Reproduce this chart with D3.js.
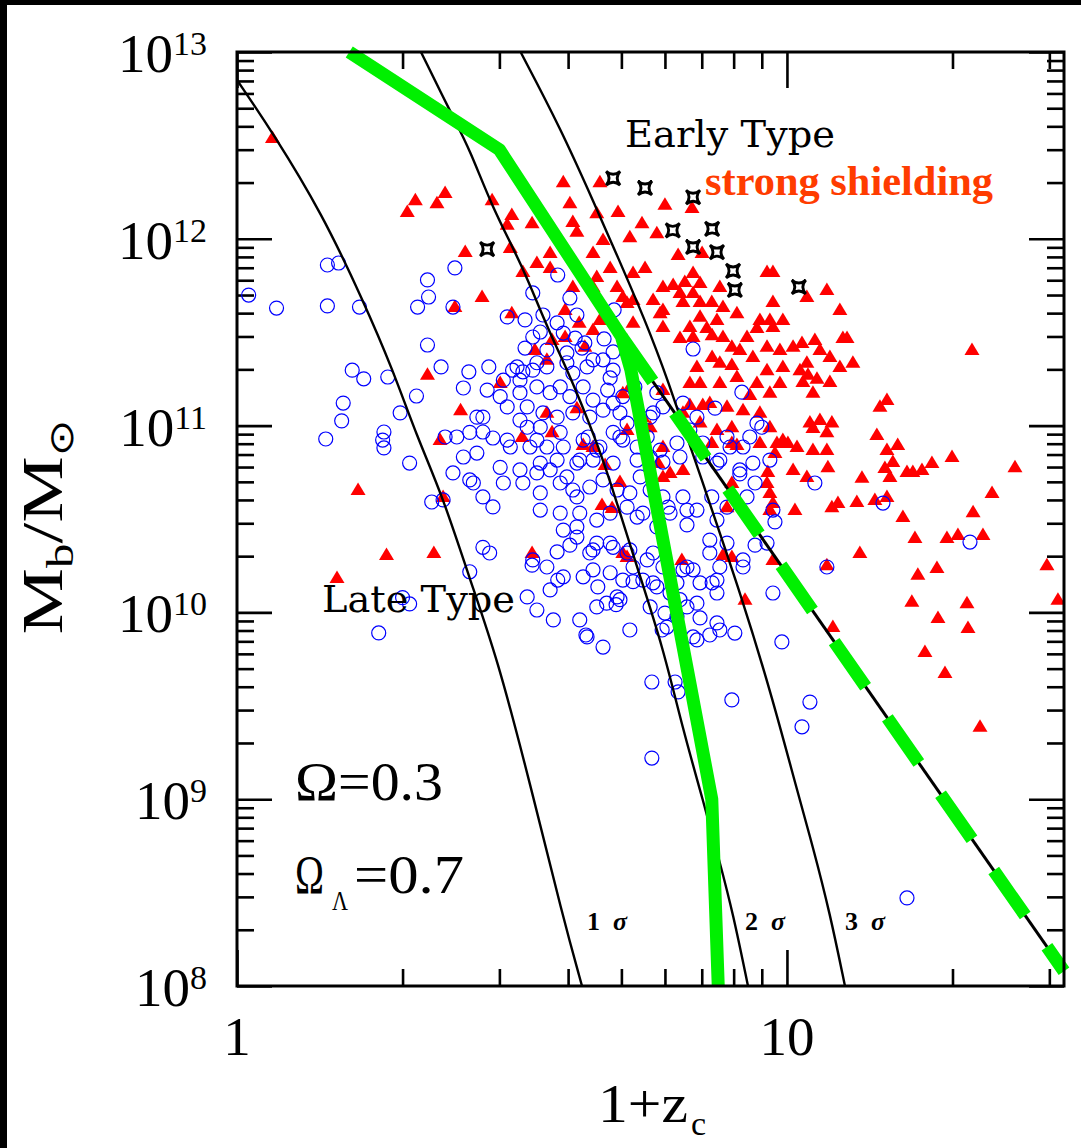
<!DOCTYPE html>
<html><head><meta charset="utf-8">
<script src="https://cdn.jsdelivr.net/npm/d3@7"></script>
<style>body{margin:0;background:#fff}svg{display:block}</style>
</head><body>
<svg id="chart" width="1081" height="1148"></svg>
<script>
// ---- data (1+z_c, M_b / M_sun) ----
const yExponents = ["8","9","10","11","12","13"];
const xTickLabels = [1, 10];
const sigmaLabels = ["1", "2", "3"];

const sigma1 = [[1.0,7.08e12],[1.163,3.68e12],[1.427,1.37e12],[1.694,4.70e11],[1.921,1.99e11],[2.125,8.69e10],[2.369,4.15e10],[2.653,1.49e10],[2.97,5.77e9],[3.41,1.22e9],[3.914,2.34e8],[4.24,1e8]];
const sigma2 = [[2.16,1.0e13],[2.47,4.49e12],[2.653,2.99e12],[2.909,1.48e12],[3.297,7.24e11],[3.601,3.81e11],[3.867,2.39e11],[4.083,1.69e11],[4.571,7.40e10],[4.889,4.0e10],[5.337,1.75e10],[5.951,6.53e9],[6.471,2.35e9],[7.035,9.91e8],[7.553,4.56e8],[7.976,2.46e8],[8.495,1e8]];
const sigma3 = [[3.284,9.9e12],[3.867,3.96e12],[4.476,1.52e12],[4.970,7.52e11],[5.519,3.67e11],[6.050,1.82e11],[6.947,5.45e10],[8.318,1.16e10],[9.430,3.40e9],[10.43,1.12e9],[11.15,5.55e8],[11.97,2.46e8],[12.75,1e8]];
const greenSolid = [[1.6,1e13],[3,3e12],[5,3e11],[5.2,2e11],[7.3,1e9],[7.5,1e8]];
const greenDashed = [[5,3e11],[31.9,1.2e8]];

const strongShielding = [[2.85,8.81e11],[4.83,2.11e12],[5.52,1.87e12],[6.75,1.67e12],[6.20,1.11e12],[7.31,1.13e12],[6.75,9.04e11],[7.46,8.49e11],[7.98,6.73e11],[8.04,5.32e11],[10.51,5.52e11]];

const earlyType = [[1.16,3.46e12],
[3.92,2.01e12],[4.57,2.01e12],[2.11,1.61e12],[2.39,1.76e12],[2.31,1.55e12],[2.04,1.39e12],[2.91,1.61e12],[4.03,1.55e12],[4.93,1.39e12],[6.00,1.52e12],[6.72,1.46e12],[3.16,1.34e12],[3.10,1.19e12],[3.44,1.21e12],[4.08,1.23e12],[4.15,1.09e12],[4.51,1.37e12],[5.45,1.21e12],[5.80,1.07e12],[5.18,1.02e12],[4.63,9.85e11],[3.14,8.94e11],[2.60,8.5e11],[3.71,8.4e11],[4.44,8.4e11],[6.34,8.19e11],[7.01,8.4e11],
[3.51,7.42e11],[3.31,6.64e11],[3.71,6.98e11],[4.51,6.25e11],[2.79,4.88e11],[4.08,5.52e11],[4.44,5.52e11],[2.49,4.31e11],[3.16,4.0e11],[4.57,3.68e11],[3.74,2.87e11],[3.95,2.98e11],[3.48,2.54e11],[3.01,1.69e11],[2.55,1.21e11],[2.22,1.87e11],[2.34,8.37e10],[3.30,8.69e10],[3.74,9.2e10],[3.66,2.25e11],[4.29,2.64e11],[4.19,3.55e11],[4.44,3.25e11],[3.95,4.16e11],[4.15,1.24e11],[3.66,1.17e11],[4.26,7.87e10],[4.44,7.68e10],[4.61,3.76e10],[4.81,3.62e10],[3.44,2.08e10],[1.66,4.52e10],[2.37,4.15e10],[1.87,2.03e10],[2.28,2.08e10],[1.52,1.53e10],[5.12,1.98e10],[5.03,2.08e10],[4.97,4.99e10],[5.12,9.47e10],[5.03,1.49e11],[5.18,1.61e11],[5.47,1.11e11],[5.64,9.8e10],
[4.77,6.98e11],[5.52,6.98e11],[5.25,6.56e11],[5.95,5.52e11],[6.52,5.87e11],[6.75,6.56e11],[6.95,5.80e11],[7.55,5.52e11],[6.21,5.66e11],[4.91,5.52e11],[5.03,4.88e11],[5.25,4.70e11],[5.12,4.53e11],[5.71,4.70e11],[5.95,4.16e11],[6.39,5.13e11],[6.75,5.13e11],[6.47,4.59e11],[6.95,4.59e11],[7.30,4.59e11],[7.65,4.31e11],[9.43,4.59e11],[8.11,4.0e11],[8.93,3.68e11],[9.31,3.68e11],[9.83,3.68e11],[9.43,3.37e11],[8.82,3.33e11],[5.25,3.55e11],[5.88,4.0e11],[5.95,3.37e11],[6.95,3.82e11],[7.46,3.68e11],[6.66,3.37e11],[7.15,3.33e11],[6.75,2.98e11],[7.31,3.05e11],[7.65,2.98e11],[6.39,2.94e11],[7.94,2.64e11],[8.46,2.98e11],[8.21,2.54e11],[9.20,2.64e11],[9.71,2.54e11],[10.26,2.64e11],[7.31,2.33e11],[6.86,2.06e11],[7.55,2.17e11],[7.94,2.11e11],[8.67,2.33e11],[9.20,1.98e11],[9.83,2.06e11],[6.66,1.69e11],[6.95,1.69e11],[7.55,1.69e11],[8.11,1.82e11],[8.82,1.69e11],[9.71,1.69e11],[9.31,1.50e11],[8.56,1.46e11],[8.32,1.21e11],[8.93,1.17e11],[9.31,9.8e10],[9.83,8.37e10],[10.43,7.68e10],[7.24,1.32e11],[7.78,1.26e11],[6.95,1.04e11],[7.46,9.47e10],[7.94,9.8e10],[7.30,8.07e10],[7.94,8.07e10],[9.20,6.64e11],[9.43,6.64e11],[6.47,1.17e11],[6.66,1.29e11],[7.03,1.29e11],[8.11,7.87e10],[9.51,7.13e10],[5.95,1.55e11],[5.95,5.31e10],[6.47,5.79e10],[6.13,5.58e10],[5.83,6.30e10],[5.95,7.68e10],[9.31,3.53e10],[7.78,3.66e10],
[11.82,5.32e11],[10.87,4.88e11],[12.48,4.16e11],[10.65,2.77e11],[11.24,2.87e11],[11.48,2.54e11],[11.97,2.33e11],[12.64,2.94e11],[12.86,2.94e11],[13.18,2.17e11],[12.48,2.06e11],[10.56,1.98e11],[10.92,1.87e11],[11.34,1.78e11],[11.97,1.71e11],[10.87,2.17e11],[10.69,1.71e11],[11.15,1.50e11],[15.2,1.37e11],[14.76,1.26e11],[21.7,2.54e11],[11.01,1.04e11],[11.48,1.07e11],[12.07,1.04e11],[11.15,9.7e10],[11.82,9.2e10],[14.57,8.91e10],[15.9,7.87e10],
[8.93,8.07e10],[9.59,8.07e10],[10.04,8.07e10],[11.15,7.40e10],[11.82,7.40e10],[15.2,7.40e10],[15.58,6.38e10],[15.07,5.93e10],[15.39,5.31e10],[16.53,5.65e10],[16.94,5.65e10],[17.6,5.79e10],[18.35,6.3e10],[19.96,6.79e10],[25.98,5.98e10],[10.26,5.79e10],[10.87,5.31e10],[11.87,5.98e10],[13.69,5.25e10],[9.23,5.65e10],[9.20,4.93e10],[9.31,4.36e10],[9.43,3.85e10],[10.34,3.53e10],[12.07,3.66e10],[12.38,3.85e10],[13.40,3.90e10],[14.45,4.0e10],[15.2,4.15e10],[16.25,3.24e10],[21.8,3.44e10],[23.6,4.36e10],[17.09,2.50e10],[19.54,2.50e10],[20.46,2.60e10],[22.72,2.60e10],[29.7,1.79e10],[13.57,2.08e10],[17.3,1.59e10],[18.74,1.73e10],[9.43,1.91e10],[11.82,1.79e10],[7.94,4.93e10],[7.65,2.03e10],[7.94,1.98e10],[6.44,1.91e10],[8.39,1.17e10],[16.87,1.14e10],[21.25,1.12e10],[18.82,9.34e9],[31.1,1.17e10],[21.34,8.25e9],[12.12,8.35e9],[17.82,6.14e9],[19.38,4.74e9],[22.44,2.44e9],[4.67,6.15e10]];

const lateType = [[1.05,5.0e11],[1.18,4.26e11],[1.46,7.24e11],[1.53,7.42e11],[1.46,4.37e11],[1.67,4.31e11],[2.22,6.02e11],[2.23,4.88e11],[2.13,4.31e11],[2.22,2.70e11],[1.62,1.98e11],[1.70,1.78e11],[1.88,1.82e11],[2.35,2.06e11],[2.12,1.44e11],[1.56,1.32e11],[1.55,1.06e11],[1.45,8.48e10],[1.85,9.24e10],[1.84,8.37e10],[1.85,7.59e10],[1.98,1.17e11],[2.06,6.3e10],[2.26,3.90e10],[2.37,4.0e10],[2.00,1.20e10],[2.06,1.11e10],[1.81,7.76e9],[2.39,8.69e10],
[2.49,6.98e11],[2.47,4.31e11],[3.83,6.40e11],[3.45,5.13e11],[4.03,4.82e11],[3.10,3.82e11],[3.34,3.68e11],[3.60,3.91e11],[3.82,3.55e11],[4.15,3.91e11],[3.56,3.17e11],[3.92,3.13e11],[3.45,2.98e11],[4.12,2.94e11],[4.29,2.77e11],[3.34,2.60e11],[3.66,2.54e11],[3.98,2.45e11],[4.24,2.60e11],[3.23,2.06e11],[3.45,1.98e11],[3.66,2.06e11],[3.98,2.17e11],[4.08,1.91e11],[4.33,2.06e11],[2.64,1.94e11],[2.87,2.06e11],[4.44,2.25e11],[3.17,1.98e11],[3.31,1.94e11],[3.51,2.17e11],
[2.58,1.59e11],[3.01,1.43e11],[3.27,1.50e11],[3.51,1.61e11],[3.71,1.50e11],[3.87,1.61e11],[4.03,1.43e11],[4.26,1.61e11],[4.44,1.37e11],[2.80,1.11e11],[3.10,1.26e11],[3.37,1.26e11],[3.60,1.17e11],[3.82,1.11e11],[4.08,1.17e11],[4.38,1.11e11],[2.51,8.69e10],[2.65,9.2e10],[2.80,9.24e10],[2.92,8.58e10],[3.14,7.68e10],[3.41,7.68e10],[3.66,7.68e10],[3.92,7.68e10],[4.26,8.37e10],[2.58,6.79e10],[2.73,7.13e10],[3.01,5.98e10],[3.27,5.79e10],[3.56,6.30e10],[3.82,6.54e10],[4.15,6.30e10],[4.44,6.54e10],[2.47,5.58e10],[2.65,5.12e10],[2.80,4.15e10],[2.92,3.67e10],[3.05,4.93e10],[3.31,4.93e10],[3.56,4.36e10],[3.87,4.93e10],[4.15,4.15e10],[4.38,4.69e10],[3.56,3.53e10],[3.87,3.40e10],[4.20,3.40e10],[4.51,3.12e10],[2.80,2.23e10],[2.88,2.08e10],[2.65,1.65e10],[3.82,2.11e10],[4.15,2.53e10],[4.51,2.35e10],[4.44,2.16e10],[3.45,1.91e10],[3.66,1.75e10],[3.92,1.55e10],[4.26,1.55e10],[3.37,1.21e10],[3.71,1.32e10],[3.83,1.49e10],[4.53,1.37e10],[4.51,1.07e10],[3.76,9.11e9],[4.20,9.11e9],[4.33,7.39e9],[3.51,1.03e10],[3.51,5.58e10],[3.27,1.07e11],[3.87,9.2e10],[3.71,5.79e10],[3.98,5.31e10],[3.92,2.76e10],[4.15,2.87e10],[4.03,2.29e10],[4.38,2.08e10],[4.44,1.69e10],[2.69,4.93e10],[4.51,7.40e10],[4.35,8.69e10],[4.08,4.52e10],[4.20,6.54e10],[3.05,1.75e11],[3.27,1.75e11],[2.85,1.55e11],[3.37,9.8e10],[3.56,9.8e10],[2.73,1.11e11],[3.10,8.37e10],[3.51,8.37e10],[4.89,1.10e10],[3.44,1.79e10],
[4.85,4.16e11],[4.65,2.91e11],[4.83,2.48e11],[4.63,2.25e11],[4.83,1.98e11],[4.77,1.80e11],[6.75,2.57e11],
[4.72,1.55e11],[4.83,1.32e11],[5.03,1.43e11],[5.29,1.61e11],[5.80,1.50e11],[4.63,1.21e11],[4.97,1.17e11],[5.12,1.03e11],[5.64,1.11e11],[5.95,1.26e11],[6.47,1.32e11],[7.40,1.24e11],[8.82,1.03e11],[4.57,7.68e10],[4.83,9.2e10],[5.03,8.37e10],[5.34,7.68e10],[5.57,8.69e10],[5.88,7.40e10],[6.31,8.07e10],[6.66,9.47e10],[7.03,8.07e10],[8.32,7.68e10],[8.56,8.69e10],[4.83,6.30e10],[5.34,6.54e10],[5.64,6.79e10],[5.95,6.38e10],[6.39,6.79e10],[7.03,6.79e10],[7.55,6.54e10],[8.21,5.79e10],[8.67,6.30e10],[9.31,6.54e10],[4.63,5.12e10],[4.91,4.52e10],[5.18,4.36e10],[5.64,4.52e10],[5.95,4.15e10],[6.47,4.15e10],[7.30,4.15e10],[8.21,5.51e10],[8.46,4.15e10],[8.75,4.93e10],[8.28,1.51e11],[6.86,1.11e11],[5.71,1.17e11],[7.78,8.69e10],[7.88,7.68e10],[5.41,5.31e10],[4.97,8.69e10],[9.0,9.8e10],[11.24,4.93e10],[7.46,6.30e10],
[9.43,3.53e10],[9.51,3.05e10],[8.75,2.29e10],[9.20,2.35e10],[11.82,1.75e10],[14.95,3.85e10],[21.52,2.38e10],[9.43,1.27e10],[9.79,6.95e9],[11.01,3.31e9],[10.65,2.44e9],[7.94,3.40e9],[5.68,4.24e9],[6.26,4.24e9],[6.34,3.75e9],[5.68,1.66e9],[5.18,8.05e9],[4.63,6.52e9],[6.75,7.39e9],[7.24,7.57e9],[7.55,8.05e9],[8.04,7.75e9],[6.95,9.34e9],[7.46,8.78e9],[6.39,1.17e10],[6.86,1.12e10],[6.00,9.92e9],[5.93,8.05e9],[6.13,1.27e10],[5.71,1.44e10],[5.25,1.46e10],[4.97,1.17e10],[4.70,1.12e10],[6.58,1.75e10],[6.75,1.69e10],[7.31,1.44e10],[7.46,1.49e10],[5.57,1.91e10],[4.77,2.35e10],[5.12,2.08e10],[5.47,3.40e10],[6.13,3.40e10],[6.58,2.94e10],[7.24,2.08e10],[8.32,1.75e10],[6.86,3.53e10],[7.46,3.12e10],[7.78,3.66e10],[4.77,3.40e10],[5.12,3.66e10],[5.34,3.24e10],[5.80,2.87e10],[4.83,2.23e10],[5.18,2.16e10],[5.25,1.75e10],[5.71,2.08e10],[5.95,1.75e10],[6.47,1.69e10],[7.55,1.75e10],[4.77,1.63e10],[5.03,1.49e10],[5.47,1.49e10],[5.80,1.37e10],[6.31,1.44e10],[6.95,1.44e10],[7.46,1.27e10],[4.91,1.21e10],[5.64,1.07e10],[6.31,9.5e9],[6.58,1.07e10],[6.86,7.12e9],[6.05,8.35e9],[7.24,2.44e10],[7.78,2.35e10],[8.32,1.91e10],[6.58,3.53e10],[6.08,3.66e10],[16.53,2.96e8],[4.31,7.57e9]];

// ---- layout ----
const W = 1081, H = 1148;
const L = 237, R = 1064, T = 52, B = 986;
const svg = d3.select("#chart");
svg.append("rect").attr("width", W).attr("height", H).attr("fill", "#000");
svg.append("rect").attr("x", 7).attr("y", 5).attr("width", W - 7).attr("height", H - 5).attr("fill", "#fff");

const x = d3.scaleLog().domain([1, 31.9]).range([L, R]);
const y = d3.scaleLog().domain([1e8, 1e13]).range([B, T]);

svg.append("clipPath").attr("id", "clip").append("rect")
  .attr("x", L).attr("y", T).attr("width", R - L).attr("height", B - T);

const serif = "'Liberation Serif', 'Times New Roman', serif";

// ---- ticks via d3 axes ----
const xAll = x.ticks(), yAll = y.ticks();
const isDecade = v => Math.abs(Math.log10(v) - Math.round(Math.log10(v))) < 1e-9;
const xMajor = xAll.filter(isDecade), xMinor = xAll.filter(v => !isDecade(v));
const yMajor = yAll.filter(isDecade), yMinor = yAll.filter(v => !isDecade(v));

function styleAxis(g) {
  g.select(".domain").remove();
  g.selectAll(".tick line").attr("stroke", "#000").attr("stroke-width", 2.6);
  g.selectAll(".tick text").remove();
}
const axes = [
  [d3.axisBottom(x), `translate(0,${B})`, xMinor, 17], [d3.axisBottom(x), `translate(0,${B})`, xMajor, 36],
  [d3.axisTop(x), `translate(0,${T})`, xMinor, 17], [d3.axisTop(x), `translate(0,${T})`, xMajor, 36],
  [d3.axisLeft(y), `translate(${L},0)`, yMinor, 17], [d3.axisLeft(y), `translate(${L},0)`, yMajor, 35],
  [d3.axisRight(y), `translate(${R},0)`, yMinor, 17], [d3.axisRight(y), `translate(${R},0)`, yMajor, 35]
];
axes.forEach(([ax, tr, vals, len]) => {
  svg.append("g").attr("transform", tr)
    .call(ax.tickValues(vals).tickSize(-len).tickFormat(""))
    .call(styleAxis);
});

// ---- markers ----
const plot = svg.append("g").attr("clip-path", "url(#clip)");
plot.append("g").selectAll("path").data(earlyType).join("path")
  .attr("d", "M0,-7.5L7.5,5L-7.5,5Z")
  .attr("transform", d => `translate(${x(d[0])},${y(d[1])})`)
  .attr("fill", "#ff0000");
plot.append("g").selectAll("circle").data(lateType).join("circle")
  .attr("cx", d => x(d[0])).attr("cy", d => y(d[1])).attr("r", 7)
  .attr("fill", "none").attr("stroke", "#0000ff").attr("stroke-width", 1.2);

// ---- sigma curves ----
const line = d3.line().x(d => x(d[0])).y(d => y(d[1])).curve(d3.curveBasis);
[sigma1, sigma2, sigma3].forEach(c => {
  plot.append("path").attr("d", line(c)).attr("fill", "none")
    .attr("stroke", "#000").attr("stroke-width", 2.4);
});

// stars
plot.append("g").selectAll("path").data(strongShielding).join("path")
  .attr("d", "M-7,-7Q0,-1 7,-7Q1,0 7,7Q0,1 -7,7Q-1,0 -7,-7Z")
  .attr("transform", d => `translate(${x(d[0])},${y(d[1])})`)
  .attr("fill", "none").attr("stroke", "#000").attr("stroke-width", 2.8);

// ---- green lines ----
const lin = d3.line().x(d => x(d[0])).y(d => y(d[1]));
svg.append("path").attr("d", lin(greenDashed)).attr("fill", "none")
  .attr("stroke", "#000").attr("stroke-width", 3);
svg.append("path").attr("d", lin(greenDashed)).attr("fill", "none")
  .attr("stroke", "#00f000").attr("stroke-width", 13).attr("stroke-dasharray", "55,38");
svg.append("path").attr("d", lin(greenSolid)).attr("fill", "none")
  .attr("stroke", "#00f000").attr("stroke-width", 13).attr("stroke-linejoin", "round");

// ---- frame ----
svg.append("rect").attr("x", L).attr("y", T).attr("width", R - L).attr("height", B - T)
  .attr("fill", "none").attr("stroke", "#000").attr("stroke-width", 3);

// ---- tick labels ----
yExponents.forEach(e => {
  const t = svg.append("text").attr("x", 207).attr("y", y(Math.pow(10, +e)) + 20)
    .attr("text-anchor", "end").attr("font-family", serif).attr("fill", "#000");
  t.append("tspan").attr("font-size", 55).text("10");
  t.append("tspan").attr("font-size", 34).attr("dy", -17).text(e);
});
xTickLabels.forEach(v => {
  svg.append("text").attr("x", x(v)).attr("y", 1055).attr("text-anchor", "middle")
    .attr("font-family", serif).attr("font-size", 55).text(v);
});

// axis titles
const xt = svg.append("text").attr("x", 598).attr("y", 1122).attr("font-family", serif).attr("font-size", 55);
xt.append("tspan").attr("textLength", 90).attr("lengthAdjust", "spacingAndGlyphs").text("1+z");
xt.append("tspan").attr("font-size", 34).attr("dy", 13).attr("dx", 3).text("c");

const yt = svg.append("text").attr("transform", "translate(62,527) rotate(-90)")
  .attr("text-anchor", "middle").attr("font-family", serif).attr("font-size", 58)
  .attr("textLength", 215).attr("lengthAdjust", "spacingAndGlyphs");
yt.append("tspan").text("M");
yt.append("tspan").attr("font-size", 38).attr("dy", 11).text("b");
yt.append("tspan").attr("dy", -11).text("/M");
yt.append("tspan").attr("font-size", 34).attr("dy", 11).attr("font-family", "'DejaVu Sans'").text("\u2299");

// ---- annotations ----
const ann = "'DejaVu Serif', serif";
svg.append("text").attr("x", 625).attr("y", 147).attr("font-family", ann).attr("font-size", 38)
  .attr("textLength", 210).attr("lengthAdjust", "spacingAndGlyphs").text("Early Type");
svg.append("text").attr("x", 705).attr("y", 195).attr("font-family", serif).attr("font-weight", "bold")
  .attr("font-size", 42).attr("fill", "#ff3c00").attr("textLength", 288).attr("lengthAdjust", "spacingAndGlyphs")
  .text("strong shielding");
svg.append("text").attr("x", 322).attr("y", 612).attr("font-family", ann).attr("font-size", 37)
  .attr("textLength", 193).attr("lengthAdjust", "spacingAndGlyphs").text("Late Type");

svg.append("text").attr("x", 295).attr("y", 800).attr("font-family", serif).attr("font-size", 55)
  .attr("textLength", 148).attr("lengthAdjust", "spacingAndGlyphs").text("\u03A9=0.3");
// Omega_Lambda = 0.7 (Omega drawn narrow & vertically stretched so the subscript sits clear of it)
svg.append("text").attr("transform", "translate(295,893) scale(1,1.4)")
  .attr("font-family", serif).attr("font-size", 39).text("\u03A9");
svg.append("text").attr("x", 332).attr("y", 910).attr("font-family", serif).attr("font-size", 27)
  .attr("textLength", 16).attr("lengthAdjust", "spacingAndGlyphs").text("\u039B");
svg.append("text").attr("x", 354).attr("y", 893).attr("font-family", serif).attr("font-size", 55)
  .attr("textLength", 110).attr("lengthAdjust", "spacingAndGlyphs").text("=0.7");

const sigX = [587, 745, 845];
sigmaLabels.forEach((s, i) => {
  const t = svg.append("text").attr("y", 930).attr("font-family", serif).attr("font-weight", "bold").attr("font-size", 26);
  t.append("tspan").attr("x", sigX[i]).text(s);
  t.append("tspan").attr("x", sigX[i] + 26).attr("font-style", "italic").text("\u03C3");
});
</script>
</body></html>
